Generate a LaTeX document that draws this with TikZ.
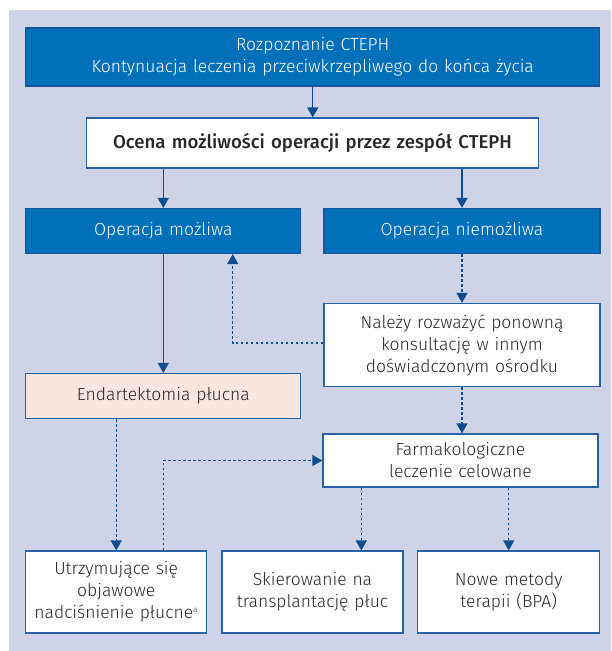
\documentclass[tikz,border=0pt]{standalone}
\usepackage{fontspec}
\setmainfont{Fira Sans}[UprightFont=* Light, BoldFont=* Medium]
\usetikzlibrary{arrows.meta}
\definecolor{lavender}{RGB}{206,211,231}
\definecolor{bluefill}{RGB}{0,112,186}
\definecolor{blueline}{RGB}{24,86,156}
\definecolor{frameline}{RGB}{40,98,166}
\definecolor{arrowblue}{RGB}{16,76,145}
\definecolor{pinkfill}{RGB}{251,229,225}
\definecolor{textgray}{RGB}{40,40,40}

\begin{document}
\begin{tikzpicture}[x=1pt,y=-1pt,
	boxsize/.style 2 args={minimum width=#1pt,minimum height=#2pt,text width=#1pt},
	bluebox/.style={draw=blueline,fill=bluefill,text=white,line width=1.2pt,inner sep=0pt,align=center,font=\fontsize{17.5}{22}\selectfont},
	whitebox/.style={bluebox,fill=white,draw=frameline,text=textgray},
	pinkbox/.style={whitebox,fill=pinkfill},
	link/.style={draw=arrowblue,line width=1.3pt,-{Triangle[width=11pt,length=10pt]}},
	dlink/.style={link,dash pattern=on 2.5pt off 2.5pt}]
\fill[lavender] (8.7,9.5) rectangle (611,651);
\useasboundingbox (0,0) rectangle (611,651);
% boxes
\node[bluebox,boxsize={574}{58}] (diag) at (312.7,57) {Rozpoznanie CTEPH\\Kontynuacja leczenia przeciwkrzepliwego do końca życia};
\node[whitebox,boxsize={452}{50},font=\fontsize{18.6}{22}\selectfont\bfseries] (ocena) at (312.5,143) {Ocena możliwości operacji przez zespół CTEPH};
\node[bluebox,boxsize={275}{45}] (mozl) at (163.3,231) {Operacja możliwa};
\node[bluebox,boxsize={276}{45}] (niemozl) at (462,231) {Operacja niemożliwa};
\node[whitebox,boxsize={276}{83}] (konsult) at (462,345) {Należy rozważyć ponowną\\konsultację w innym\\doświadczonym ośrodku};
\node[pinkbox,boxsize={275}{45}] (endart) at (163.3,396) {Endartektomia płucna};
\node[whitebox,boxsize={275}{53}] (farm) at (460.4,460.5) {Farmakologiczne\\leczenie celowane};
\node[whitebox,boxsize={181}{82}] (nadcisn) at (116.2,592) {Utrzymujące się\\objawowe\\nadciśnienie płucne\textsuperscript{\fontsize{8}{8}\selectfont a}};
\node[whitebox,boxsize={181}{82}] (transpl) at (312.5,592) {Skierowanie na\\transplantację płuc};
\node[whitebox,boxsize={182}{82}] (bpa) at (508.7,592) {Nowe metody\\terapii (BPA)};
% connectors
\draw[link] (diag.south) -- (diag.south |- ocena.north);
\draw[link] (ocena.south -| mozl) -- (mozl);
\draw[link] (ocena.south -| niemozl) -- (niemozl);
\draw[link] (mozl) -- (endart);
\draw[dlink] (niemozl) -- (konsult);
\coordinate (zwrot) at (232.7,343);
\draw[dlink] (konsult.west |- zwrot) -- (zwrot) -- (zwrot |- mozl.south);
\draw[dlink] (konsult.south) -- (konsult.south |- farm.north);
\draw[dlink] (endart.south -| nadcisn) -- (nadcisn);
\draw[dlink] (nadcisn.north -| endart) |- (farm.west);
\draw[dlink] ([xshift=39pt]farm.south west) -- ([xshift=39pt]farm.south west |- transpl.north);
\draw[dlink] (farm.south -| bpa) -- (bpa);
\end{tikzpicture}
\end{document}
